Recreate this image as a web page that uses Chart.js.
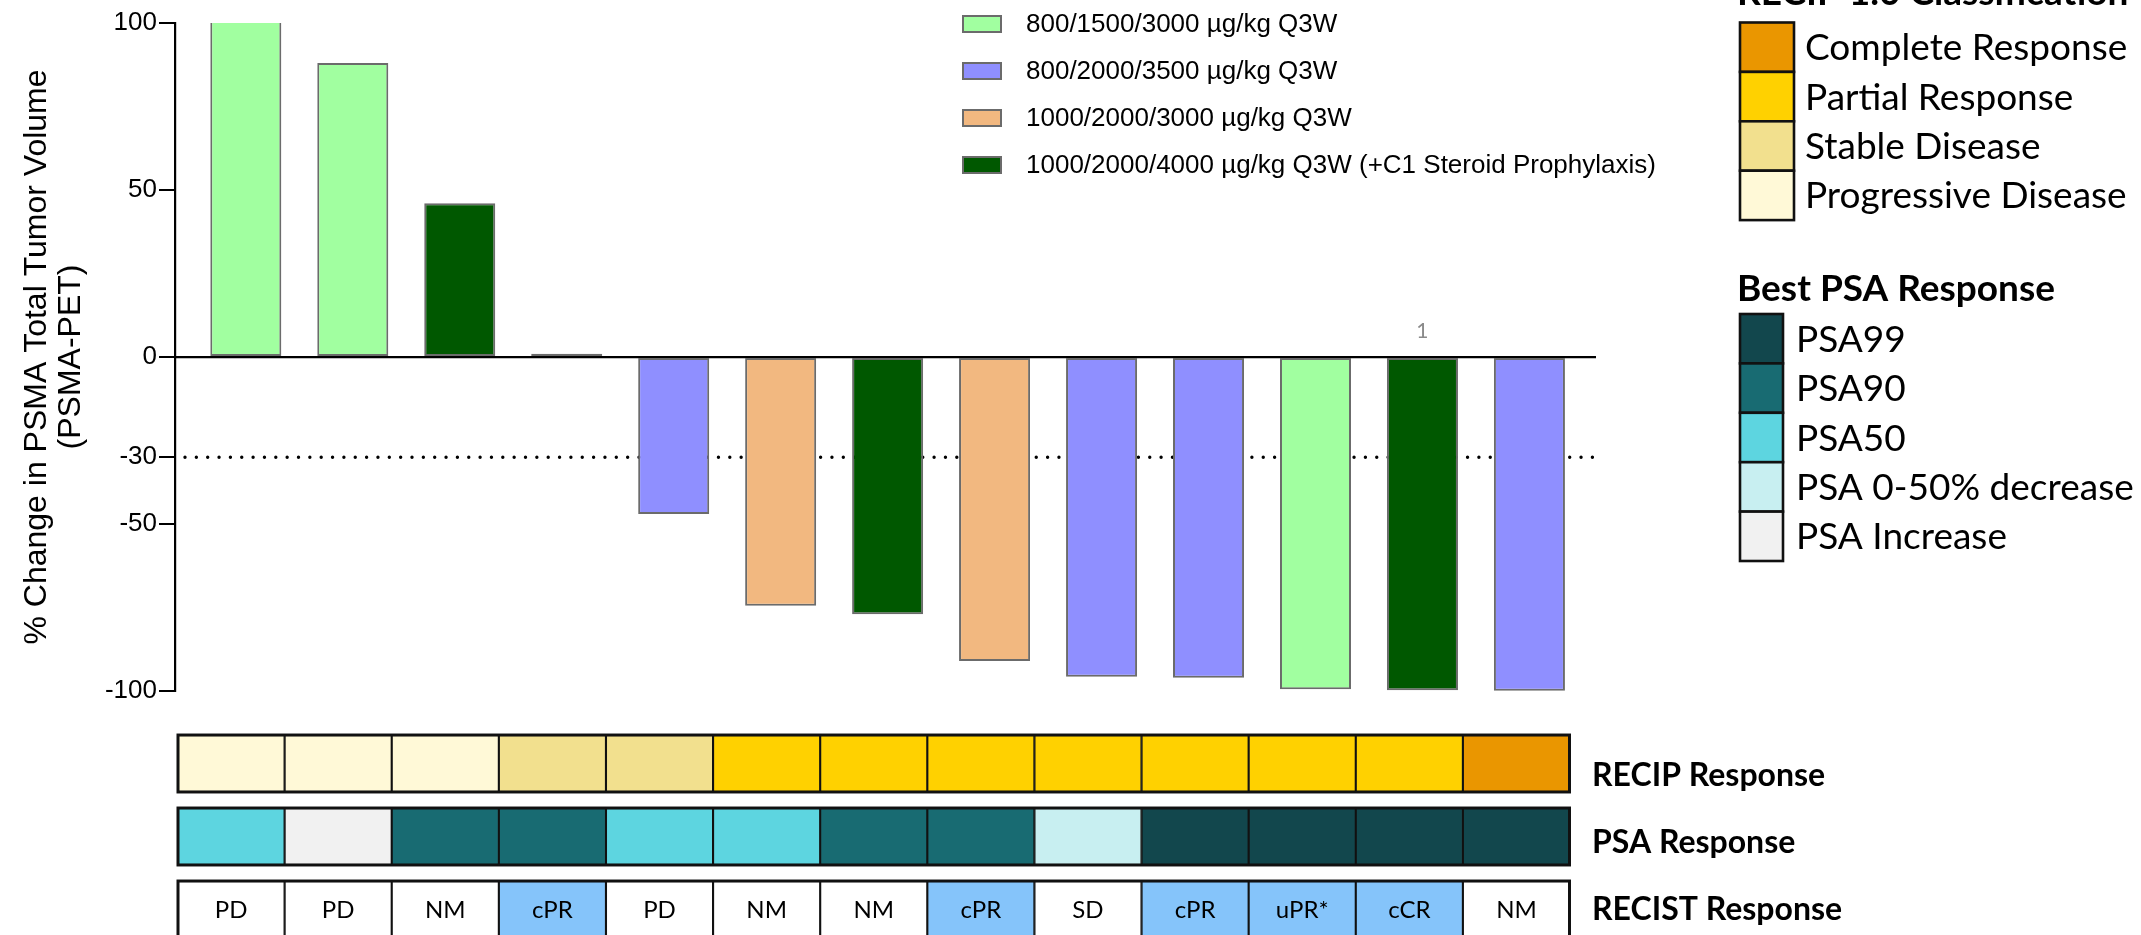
<!DOCTYPE html>
<html><head><meta charset="utf-8">
<script src="https://cdn.jsdelivr.net/npm/chart.js@4.4.1/dist/chart.umd.min.js"></script>
<style>
html,body{margin:0;padding:0;background:#fff;overflow:hidden;width:2141px;height:935px;}
#main{position:absolute;left:0;top:0;}
#tbl{position:absolute;left:0;top:720px;}
</style></head><body>
<canvas id="main" width="2141" height="720"></canvas>
<canvas id="tbl" width="2141" height="230"></canvas>
<script>
// ---------------- data ----------------
const patients = ['1','2','3','4','5','6','7','8','9','10','11','12','13'];
const changePct = [101, 88, 46, 1, -47, -74.5, -77, -91, -95.7, -96, -99.5, -99.8, -99.9];
const doseGroup = ['A','A','D','B','B','C','D','C','B','B','A','D','B'];
const doseKeys = ['A','B','C','D'];
const doseLabels = ['800/1500/3000 µg/kg Q3W','800/2000/3500 µg/kg Q3W','1000/2000/3000 µg/kg Q3W','1000/2000/4000 µg/kg Q3W (+C1 Steroid Prophylaxis)'];
const yTicks = [-100, -50, -30, 0, 50, 100];
const thresholdPct = -30;
const noteIndex = [11];
const noteText = ['1'];
const yTitle = ['% Change in PSMA Total Tumor Volume', '(PSMA-PET)'];

const recipResponse = ['PD','PD','PD','SD','SD','PR','PR','PR','PR','PR','PR','PR','CR'];
const psaResponse = ['PSA50','INC','PSA90','PSA90','PSA50','PSA50','PSA90','PSA90','DEC','PSA99','PSA99','PSA99','PSA99'];
const recistResponse = ['PD','PD','NM','cPR','PD','NM','NM','cPR','SD','cPR','uPR*','cCR','NM'];
const rowLabels = ['RECIP Response','PSA Response','RECIST Response'];

const recipKeys = ['CR','PR','SD','PD'];
const recipNames = ['Complete Response','Partial Response','Stable Disease','Progressive Disease'];
const psaKeys = ['PSA99','PSA90','PSA50','DEC','INC'];
const psaNames = ['PSA99','PSA90','PSA50','PSA 0-50% decrease','PSA Increase'];
const recipTitle = 'RECIP 1.0 Classification';
const psaTitle = 'Best PSA Response';

// ---------------- styles ----------------
const doseColors = {A:'#A1FFA0', B:'#8F8FFF', C:'#F2B880', D:'#005800'};
const recipColors = {CR:'#EA9600', PR:'#FFD100', SD:'#F2E08E', PD:'#FFF9D7'};
const psaColors = {PSA99:'#12474D', PSA90:'#186B72', PSA50:'#5DD5E0', DEC:'#C8EFF1', INC:'#F1F1F1'};
const recistColor = v => (/PR|CR/.test(v) ? '#85C4FA' : '#FFFFFF');
const LATO = 'Lato, "Open Sans", sans-serif';
const ARIAL = '"Liberation Sans", Arial, sans-serif';

// ---------------- main chart ----------------
const mainDatasets = doseKeys.map((k, gi) => ({
  label: doseLabels[gi],
  data: patients.map((p, i) => doseGroup[i] === k ? {x: i + 1, y: changePct[i]} : null).filter(Boolean),
  backgroundColor: doseColors[k],
  borderColor: '#6b6b6b',
  borderWidth: 2,
  borderSkipped: false,
  grouped: false,
  barPercentage: 0.664,
  categoryPercentage: 1,
  clip: 0
}));

const thresholdPlugin = {
  id: 'threshold',
  beforeDatasetsDraw(chart) {
    const {ctx, chartArea, scales} = chart;
    const y = scales.y.getPixelForValue(thresholdPct);
    ctx.save();
    ctx.strokeStyle = '#000';
    ctx.lineWidth = 3.4;
    ctx.lineCap = 'round';
    ctx.setLineDash([0, 11.35]);
    ctx.beginPath();
    ctx.moveTo(chartArea.left + 10, y);
    ctx.lineTo(chartArea.right - 2, y);
    ctx.stroke();
    ctx.restore();
  }
};

const decorPlugin = {
  id: 'decor',
  afterDraw(chart) {
    const {ctx, scales} = chart;
    ctx.save();
    // dose legend
    ctx.font = '26px ' + ARIAL;
    ctx.textBaseline = 'middle';
    ctx.textAlign = 'left';
    chart.data.datasets.forEach((ds, i) => {
      const cy = 24 + i * 47;
      ctx.fillStyle = ds.backgroundColor;
      ctx.fillRect(963, cy - 8, 38, 16);
      ctx.strokeStyle = '#6b6b6b';
      ctx.lineWidth = 2;
      ctx.strokeRect(963, cy - 8, 38, 16);
      ctx.fillStyle = '#000';
      ctx.fillText(ds.label, 1026, cy + 1);
    });
    // note above bar
    ctx.font = '21px ' + LATO;
    ctx.fillStyle = '#8a8a8a';
    ctx.textAlign = 'center';
    noteIndex.forEach((idx, j) => {
      ctx.fillText(noteText[j], scales.x.getPixelForValue(idx + 1), scales.y.getPixelForValue(0) - 26);
    });
    // right legends
    const block = (title, titleBase, keys, names, colors, top, boxW, textX) => {
      ctx.textAlign = 'left';
      ctx.textBaseline = 'alphabetic';
      ctx.fillStyle = '#000';
      ctx.font = 'bold 37px ' + LATO;
      ctx.fillText(title, 1737, titleBase);
      const step = 49.4;
      keys.forEach((k, i) => {
        const y0 = top + i * step;
        ctx.fillStyle = colors[k];
        ctx.fillRect(1740, y0, boxW, step);
        ctx.strokeStyle = '#111';
        ctx.lineWidth = 2.6;
        ctx.strokeRect(1740, y0, boxW, step);
        ctx.fillStyle = '#000';
        ctx.font = '37px ' + LATO;
        ctx.fillText(names[i], textX, y0 + step / 2 + 13);
      });
    };
    block(recipTitle, 5, recipKeys, recipNames, recipColors, 22.5, 54, 1805);
    block(psaTitle, 301, psaKeys, psaNames, psaColors, 314, 43, 1796);
    ctx.restore();
  }
};

new Chart(document.getElementById('main'), {
  type: 'bar',
  data: {datasets: mainDatasets},
  options: {
    responsive: false, animation: false, devicePixelRatio: 1,
    layout: {padding: {left: 0, top: 23, right: 546, bottom: 29}},
    plugins: {legend: {display: false}, tooltip: {enabled: false}},
    scales: {
      x: {
        type: 'linear', min: 0.338, max: 13.613, offset: false, position: {y: 0},
        grid: {display: false, offset: false}, ticks: {display: false},
        border: {display: true, color: '#000', width: 2.2},
        afterFit(s) { s.height = 0; }
      },
      y: {
        type: 'linear', min: -100, max: 100,
        afterBuildTicks(s) { s.ticks = yTicks.map(v => ({value: v})); },
        ticks: {font: {family: ARIAL, size: 26}, color: '#000', padding: 2, autoSkip: false, callback: v => String(v)},
        grid: {drawOnChartArea: false, drawTicks: true, tickLength: 16, color: '#000', lineWidth: 2},
        border: {display: true, color: '#000', width: 2.2},
        title: {display: true, text: yTitle, color: '#000', font: {family: ARIAL, size: 32, lineHeight: 1.06}, padding: {top: 20, bottom: 0}},
        afterFit(s) { s.width = 175; }
      }
    }
  },
  plugins: [thresholdPlugin, decorPlugin]
});

// ---------------- table chart ----------------
const rowsFill = [
  recipResponse.map(v => recipColors[v]),
  psaResponse.map(v => psaColors[v]),
  recistResponse.map(recistColor)
];
const cellPad = 0.11;
const tableDatasets = rowLabels.map((lab, r) => ({
  label: lab,
  data: patients.map((p, i) => ({x: i + 1, y: [r + cellPad, r + 1 - cellPad]})),
  backgroundColor: rowsFill[r],
  borderColor: '#111',
  borderWidth: 1.4,
  borderSkipped: false,
  grouped: false,
  barPercentage: 1,
  categoryPercentage: 1
}));

const tablePlugin = {
  id: 'tableDecor',
  afterDatasetsDraw(chart) {
    const {ctx, scales, chartArea} = chart;
    ctx.save();
    // row outlines
    ctx.strokeStyle = '#111';
    ctx.lineWidth = 3;
    rowLabels.forEach((lab, r) => {
      const yA = scales.y.getPixelForValue(r + cellPad);
      const yB = scales.y.getPixelForValue(r + 1 - cellPad);
      ctx.strokeRect(chartArea.left + 0.5, yA, chartArea.right - chartArea.left - 1, yB - yA);
    });
    // RECIST text
    ctx.fillStyle = '#000';
    ctx.font = '24px ' + LATO;
    ctx.textAlign = 'center';
    ctx.textBaseline = 'middle';
    recistResponse.forEach((v, i) => {
      ctx.fillText(v, scales.x.getPixelForValue(i + 1), scales.y.getPixelForValue(2.5) + 1);
    });
    // row labels
    const labelShift = [12, 6, 0];
    ctx.font = 'bold 32px ' + LATO;
    ctx.textAlign = 'left';
    rowLabels.forEach((lab, r) => {
      ctx.fillText(lab, chartArea.right + 22, scales.y.getPixelForValue(r + 0.5) + labelShift[r]);
    });
    ctx.restore();
  }
};

new Chart(document.getElementById('tbl'), {
  type: 'bar',
  data: {datasets: tableDatasets},
  options: {
    responsive: false, animation: false, devicePixelRatio: 1,
    layout: {padding: {left: 177.5, top: 7, right: 571, bottom: 4}},
    plugins: {legend: {display: false}, tooltip: {enabled: false}},
    scales: {
      x: {type: 'linear', min: 0.5, max: 13.5, offset: false, grid: {offset: false}, display: false},
      y: {type: 'linear', min: 0, max: 3, reverse: true, display: false}
    }
  },
  plugins: [tablePlugin]
});
</script>
</body></html>
